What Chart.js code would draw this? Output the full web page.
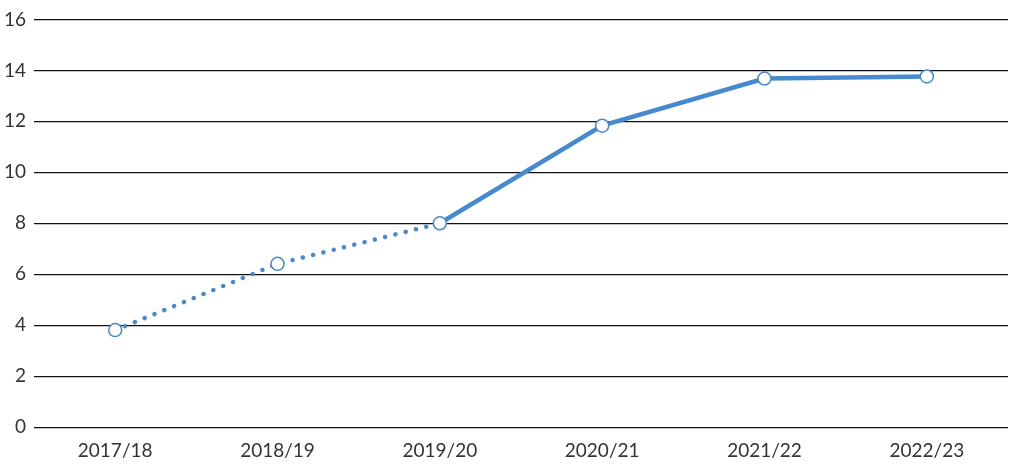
<!DOCTYPE html>
<html>
<head>
<meta charset="utf-8">
<script src="https://cdn.jsdelivr.net/npm/chart.js@4"></script>
<style>
  html, body { margin: 0; padding: 0; background: #fff; }
  #wrap { width: 1019px; height: 475px; }
</style>
</head>
<body>
<div id="wrap"><canvas id="lineChart"></canvas></div>
<script>
const years = ["2017/18", "2018/19", "2019/20", "2020/21", "2021/22", "2022/23"];
const values = [3.81, 6.41, 8.0, 11.83, 13.68, 13.76];
const yTicks = [0, 2, 4, 6, 8, 10, 12, 14, 16];
const dottedUpTo = 2; // segments before this index are drawn dotted

const lineColor = "#4589d0";

const ctx = document.getElementById("lineChart").getContext("2d");
new Chart(ctx, {
  type: "line",
  data: {
    labels: years,
    datasets: [
      {
        label: "",
        data: values,
        borderColor: lineColor,
        borderWidth: 4.5,
        borderCapStyle: "round",
        tension: 0,
        pointRadius: 6.5,
        pointBorderWidth: 1.5,
        pointBackgroundColor: "#fff",
        pointBorderColor: lineColor,
        segment: {
          borderDash: (c) => (c.p1DataIndex <= dottedUpTo ? [0.1, 10.5] : undefined),
        },
      },
    ],
  },
  options: {
    responsive: true,
    maintainAspectRatio: false,
    animation: false,
    layout: { padding: { top: 16, right: 11, bottom: 9, left: 0 } },
    plugins: {
      legend: { display: false },
      tooltip: { enabled: false },
    },
    scales: {
      x: {
        offset: true,
        grid: { display: false },
        border: { display: false },
        ticks: {
          color: "#333",
          font: { family: "Lato", size: 19 },
          padding: 4,
        },
      },
      y: {
        min: yTicks[0],
        max: yTicks[yTicks.length - 1],
        afterBuildTicks: (axis) => {
          axis.ticks = yTicks.map((v) => ({ value: v }));
        },
        grid: { color: "#111", lineWidth: 1.3, drawTicks: false },
        border: { display: false },
        ticks: {
          color: "#333",
          font: { family: "Lato", size: 19 },
          padding: 8,
        },
        afterFit: (axis) => { axis.width = 34; },
      },
    },
  },
});
</script>
</body>
</html>
